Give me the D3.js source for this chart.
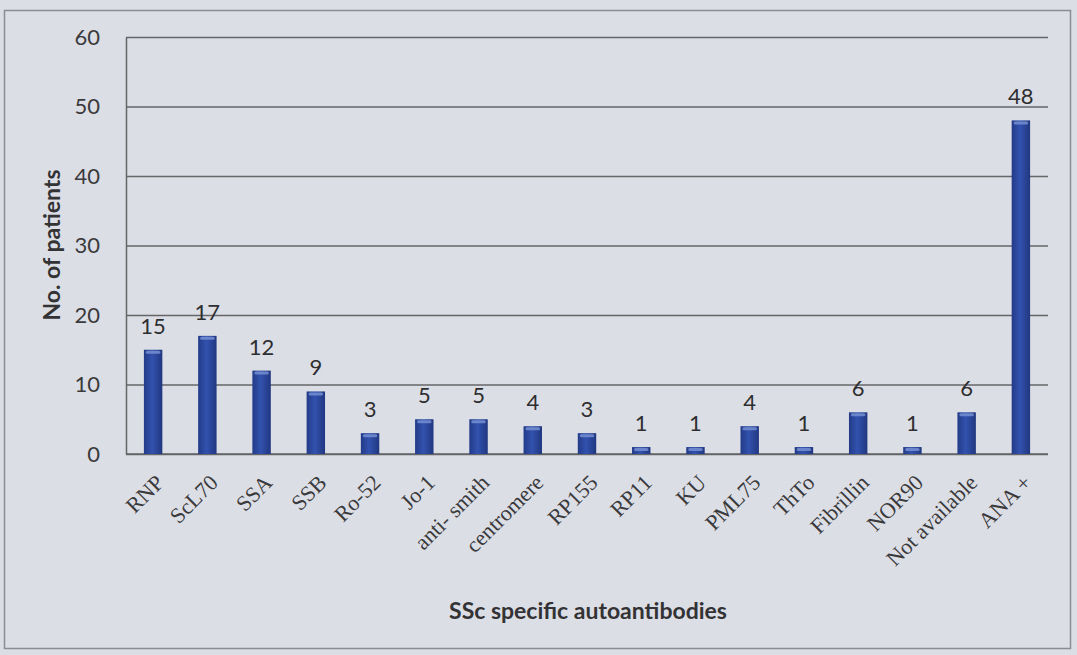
<!DOCTYPE html>
<html>
<head>
<meta charset="utf-8">
<script src="https://cdn.jsdelivr.net/npm/d3@7"></script>
<style>
  body { margin: 0; background: #dcdee5; }
  svg { display: block; }
</style>
</head>
<body>
<div id="chart"></div>
<script>
const categories = ["RNP", "ScL70", "SSA", "SSB", "Ro-52", "Jo-1", "anti- smith", "centromere",
  "RP155", "RP11", "KU", "PML75", "ThTo", "Fibrillin", "NOR90", "Not available", "ANA +"];
const patients = [15, 17, 12, 9, 3, 5, 5, 4, 3, 1, 1, 4, 1, 6, 1, 6, 48];
const yTicks = [0, 10, 20, 30, 40, 50, 60];

const W = 1077, H = 655;
const plot = { left: 126, right: 1048, top: 37, bottom: 454 };

const svg = d3.select("#chart").append("svg")
  .attr("width", W)
  .attr("height", H);

// bar gradient, excel style
const defs = svg.append("defs");
const grad = defs.append("linearGradient").attr("id", "barGrad")
  .attr("x1", "0%").attr("x2", "100%").attr("y1", "0%").attr("y2", "0%");
grad.append("stop").attr("offset", "0%").attr("stop-color", "#233b88");
grad.append("stop").attr("offset", "45%").attr("stop-color", "#3252ae");
grad.append("stop").attr("offset", "100%").attr("stop-color", "#213780");

// outer chart border
svg.append("rect")
  .attr("x", 4.5).attr("y", 10.5)
  .attr("width", 1066).attr("height", 638)
  .attr("fill", "#dcdee5")
  .attr("stroke", "#8b8d92")
  .attr("stroke-width", 1.5);

const x = d3.scaleBand()
  .domain(categories)
  .range([plot.left, plot.right])
  .paddingInner(0.66)
  .paddingOuter(0.33);

const y = d3.scaleLinear()
  .domain([0, 60])
  .range([plot.bottom, plot.top]);

// gridlines
svg.append("g")
  .attr("transform", `translate(${plot.left},0)`)
  .call(d3.axisLeft(y).tickValues(yTicks).tickSize(-(plot.right - plot.left)).tickFormat(""))
  .call(g => g.select(".domain").remove())
  .call(g => g.selectAll("line").attr("stroke", "#646669").attr("stroke-width", 1.5));

// y axis labels
svg.append("g")
  .attr("transform", `translate(${plot.left},0)`)
  .call(d3.axisLeft(y).tickValues(yTicks).tickSize(0).tickPadding(26))
  .call(g => g.select(".domain").attr("stroke", "#646669").attr("stroke-width", 1.5))
  .call(g => g.selectAll("text")
    .attr("font-family", "Lato, 'Open Sans', sans-serif")
    .attr("font-size", 22)
    .attr("fill", "#3a3a3c"));

// x axis line
svg.append("line")
  .attr("x1", plot.left).attr("x2", plot.right)
  .attr("y1", y(0)).attr("y2", y(0))
  .attr("stroke", "#646669").attr("stroke-width", 1.5);

// bars
svg.append("g").selectAll("rect")
  .data(categories)
  .join("rect")
  .attr("x", d => x(d))
  .attr("width", x.bandwidth())
  .attr("y", (d, i) => y(patients[i]))
  .attr("height", (d, i) => y(0) - y(patients[i]))
  .attr("fill", "url(#barGrad)");

// light cap on top of bars
svg.append("g").selectAll("rect")
  .data(categories)
  .join("rect")
  .attr("x", d => x(d) + 2)
  .attr("width", x.bandwidth() - 4)
  .attr("y", (d, i) => y(patients[i]) + 1)
  .attr("height", 3)
  .attr("rx", 1.5)
  .attr("fill", "#7b93d6")
  .attr("opacity", 0.8);

// value labels
svg.append("g").selectAll("text")
  .data(categories)
  .join("text")
  .attr("x", d => x(d) + x.bandwidth() / 2)
  .attr("y", (d, i) => y(patients[i]) - 16)
  .attr("text-anchor", "middle")
  .attr("font-family", "Lato, 'Open Sans', sans-serif")
  .attr("font-size", 22)
  .attr("fill", "#2e2e30")
  .text((d, i) => patients[i]);

// category labels, rotated
svg.append("g").selectAll("text")
  .data(categories)
  .join("text")
  .attr("transform", d => `translate(${x(d) + x.bandwidth() / 2 + 12},${y(0) + 30}) rotate(-45)`)
  .attr("text-anchor", "end")
  .attr("font-family", "'Liberation Serif', 'Times New Roman', serif")
  .attr("font-size", 22)
  .attr("fill", "#3a3a3c")
  .text(d => d);

// axis titles
svg.append("text")
  .attr("transform", "translate(60,245) rotate(-90)")
  .attr("text-anchor", "middle")
  .attr("font-family", "Lato, 'Open Sans', sans-serif")
  .attr("font-weight", "bold")
  .attr("font-size", 23)
  .attr("fill", "#333335")
  .text("No. of patients");

svg.append("text")
  .attr("x", 588)
  .attr("y", 619)
  .attr("text-anchor", "middle")
  .attr("font-family", "Lato, 'Open Sans', sans-serif")
  .attr("font-weight", "bold")
  .attr("font-size", 23)
  .attr("fill", "#333335")
  .text("SSc specific autoantibodies");
</script>
</body>
</html>
